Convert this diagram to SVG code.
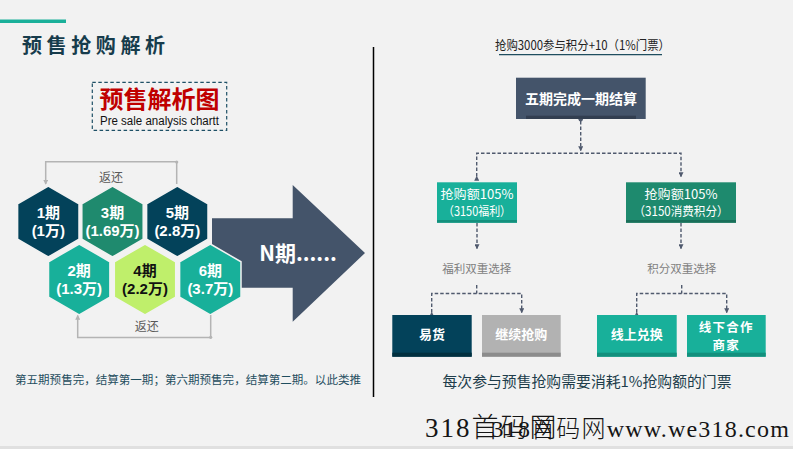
<svg xmlns="http://www.w3.org/2000/svg" width="793" height="449" viewBox="0 0 793 449">
<style>
text{font-family:"Liberation Sans","Noto Sans CJK SC",sans-serif}
.cjk{font-family:"Noto Sans CJK SC","Liberation Sans",sans-serif}
.hex{stroke:#F2F2F2;stroke-width:1.5}
.hx{font-size:15px;font-weight:bold;fill:#fff;text-anchor:middle}
.ret{fill:none;stroke:#B4B4B4;stroke-width:1.5}
.dash{fill:none;stroke:#505A6E;stroke-width:1.4;stroke-dasharray:3.5 2}
.bt{fill:#fff;text-anchor:middle;font-size:12.5px}
.bb{fill:#fff;text-anchor:middle;font-size:13px;font-weight:bold}
.lbl{fill:#7F7F7F;font-size:11.5px;text-anchor:middle}
.wm{font-family:"Liberation Serif","Noto Sans CJK SC",serif;fill:#151515;font-weight:300}
</style>
<defs>
<marker id="ar" viewBox="0 0 6 6" refX="5" refY="3" markerWidth="5" markerHeight="5" markerUnits="userSpaceOnUse" orient="auto">
<path d="M0,0 L6,3 L0,6 Z" fill="#505A6E"/>
</marker>
<marker id="arg" viewBox="0 0 6 6" refX="5" refY="3" markerWidth="5" markerHeight="5" markerUnits="userSpaceOnUse" orient="auto">
<path d="M0,0 L6,3 L0,6 Z" fill="#B4B4B4"/>
</marker>
</defs>
<rect width="793" height="449" fill="#F2F2F2"/>
<rect x="0" y="446" width="793" height="3" fill="#E0E0E0"/>

<!-- header -->
<rect x="0" y="19.5" width="66" height="3.5" fill="#1AB09A"/>
<text class="cjk" x="22" y="52.5" font-size="20" font-weight="bold" letter-spacing="4.6" fill="#173C4C">预售抢购解析</text>

<g id="legend">
<rect x="92.3" y="82.3" width="134.4" height="48" fill="none" stroke="#1E5066" stroke-width="1.2" stroke-dasharray="3.5 2.5"/>
<text class="cjk" x="159.5" y="107.5" font-size="24" font-weight="bold" fill="#C00000" text-anchor="middle">预售解析图</text>
<text x="159.5" y="124.5" font-size="12" fill="#111" text-anchor="middle" textLength="119" lengthAdjust="spacingAndGlyphs">Pre sale analysis chartt</text>
</g>

<line x1="373.5" y1="47" x2="373.5" y2="397" stroke="#000" stroke-width="1.5"/>

<!-- big arrow -->
<g id="arrow-n">
<polygon points="212,218.3 292.7,218.3 292.7,185 365,253 292.7,321.7 292.7,287.7 212,287.7" fill="#44546A"/>
<text class="cjk" x="298" y="261" font-size="21" font-weight="bold" fill="#fff" text-anchor="middle">N期......</text>
</g>

<!-- hexagons -->
<g id="hex1">
<polygon class="hex" fill="#03425A" points="48.3,186 79,203.75 79,239.25 48.3,257 17.6,239.25 17.6,203.75"/>
<text class="hx" x="48.3" y="217.5">1期</text><text class="hx" x="48.3" y="235.5">(1万)</text>
</g>
<g id="hex3">
<polygon class="hex" fill="#1F8A6E" points="112.5,186 143.2,203.75 143.2,239.25 112.5,257 81.8,239.25 81.8,203.75"/>
<text class="hx" x="112.5" y="217.5">3期</text><text class="hx" x="112.5" y="235.5">(1.69万)</text>
</g>
<g id="hex5">
<polygon class="hex" fill="#03425A" points="177.3,186 208,203.75 208,239.25 177.3,257 146.6,239.25 146.6,203.75"/>
<text class="hx" x="177.3" y="217.5">5期</text><text class="hx" x="177.3" y="235.5">(2.8万)</text>
</g>
<g id="hex2">
<polygon class="hex" fill="#18B09A" points="79.2,244 109.9,261.75 109.9,297.25 79.2,315 48.5,297.25 48.5,261.75"/>
<text class="hx" x="79.2" y="276">2期</text><text class="hx" x="79.2" y="294">(1.3万)</text>
</g>
<g id="hex4">
<polygon class="hex" fill="#BFEF6B" points="145,244 175.7,261.75 175.7,297.25 145,315 114.3,297.25 114.3,261.75"/>
<text class="hx" x="145" y="276" style="fill:#111">4期</text><text class="hx" x="145" y="294" style="fill:#111">(2.2万)</text>
</g>
<g id="hex6">
<polygon class="hex" fill="#18B09A" stroke-width="2.5" points="210.3,244 241,261.75 241,297.25 210.3,315 179.6,297.25 179.6,261.75"/>
<text class="hx" x="210.3" y="276">6期</text><text class="hx" x="210.3" y="294">(3.7万)</text>
</g>

<!-- return connectors -->
<g id="returns">
<path class="ret" d="M176.7,184 V161.8 H45.7 V184" marker-end="url(#arg)"/>
<circle cx="176.7" cy="162" r="1.6" fill="#B4B4B4"/>
<text class="cjk" x="111" y="181.5" font-size="12" fill="#595959" text-anchor="middle">返还</text>
<path class="ret" d="M210.7,315 V337.5 H77.7 V315.5" marker-end="url(#arg)"/>
<circle cx="210.7" cy="337.3" r="1.6" fill="#B4B4B4"/>
<text class="cjk" x="146.7" y="331" font-size="12" fill="#595959" text-anchor="middle">返还</text>
</g>

<text class="cjk" x="15" y="384" font-size="11.5" fill="#1F4E5F" textLength="346" lengthAdjust="spacingAndGlyphs">第五期预售完，结算第一期；第六期预售完，结算第二期。以此类推</text>

<!-- right side -->
<text class="cjk" x="582.5" y="50" font-size="12.5" fill="#222" text-anchor="middle" textLength="175" lengthAdjust="spacingAndGlyphs">抢购3000参与积分+10（1%门票）</text>
<line x1="499" y1="54.7" x2="662" y2="54.7" stroke="#1F4E5F" stroke-width="1.2"/>

<g id="connectors">
<circle cx="580.7" cy="119.3" r="2.2" fill="#505A6E"/>
<path class="dash" d="M580.7,121 V150.5" marker-end="url(#ar)"/>
<path class="dash" d="M476.7,176.5 V153.3 H681 V176.5" marker-end="url(#ar)" marker-start="url(#ar)"/>
<path class="dash" d="M477,223 V248.5" marker-end="url(#ar)"/>
<path class="dash" d="M681,223 V248.5" marker-end="url(#ar)"/>
<path class="dash" d="M476.7,285 V293.5"/>
<path class="dash" d="M431.7,312.5 V293.5 H521.7 V312.5" marker-end="url(#ar)" marker-start="url(#ar)"/>
<path class="dash" d="M681.7,285 V293.5"/>
<path class="dash" d="M636.7,312.5 V293.5 H726.7 V312.5" marker-end="url(#ar)" marker-start="url(#ar)"/>
</g>

<g id="settle">
<rect x="516" y="77.7" width="129.7" height="41.3" fill="#44546A"/>
<rect x="526" y="115.7" width="110" height="3.3" fill="#323E50"/>
<text class="bb cjk" x="581" y="104" style="font-size:14px">五期完成一期结算</text>
</g>

<g id="welfare">
<rect x="437" y="182.3" width="80" height="40.4" fill="#18B09A"/>
<rect x="437" y="220" width="80" height="2.7" fill="#13907D"/>
<text class="bt cjk" x="477" y="198.5" textLength="73" lengthAdjust="spacingAndGlyphs">抢购额105%</text>
<text class="bt cjk" x="477" y="216" textLength="68" lengthAdjust="spacingAndGlyphs">（3150福利）</text>
</g>
<g id="points">
<rect x="626" y="182.3" width="110" height="40.4" fill="#1E8A6E"/>
<rect x="626" y="220" width="110" height="2.7" fill="#196F59"/>
<text class="bt cjk" x="681" y="198.5" textLength="73" lengthAdjust="spacingAndGlyphs">抢购额105%</text>
<text class="bt cjk" x="681" y="216" textLength="95" lengthAdjust="spacingAndGlyphs">（3150消费积分）</text>
</g>

<text class="lbl cjk" x="476.7" y="272.5">福利双重选择</text>
<text class="lbl cjk" x="681.7" y="272.5">积分双重选择</text>

<g id="barter">
<rect x="392.3" y="315" width="79.4" height="41.7" fill="#03425A"/>
<rect x="392.3" y="352.7" width="79.4" height="4" fill="#02303F"/>
<text class="bb cjk" x="432" y="338.5">易货</text>
</g>
<g id="continue">
<rect x="482" y="315" width="78.7" height="41.7" fill="#B2B2B2"/>
<rect x="482" y="352.7" width="78.7" height="4" fill="#8C8C8C"/>
<text class="bb cjk" x="521.3" y="338.5">继续抢购</text>
</g>
<g id="online">
<rect x="597" y="315" width="79.7" height="41.7" fill="#18B09A"/>
<rect x="597" y="352.7" width="79.7" height="4" fill="#13907D"/>
<text class="bb cjk" x="636.8" y="338.5">线上兑换</text>
</g>
<g id="offline">
<rect x="687" y="315" width="78.7" height="41.7" fill="#18B09A"/>
<rect x="687" y="352.7" width="78.7" height="4" fill="#13907D"/>
<text class="bb cjk" x="726.3" y="331.5" letter-spacing="1.3" style="font-size:12.5px">线下合作</text>
<text class="bb cjk" x="726.3" y="349.5" letter-spacing="1.3" style="font-size:12.5px">商家</text>
</g>

<text class="cjk" x="587" y="387" font-size="14.5" fill="#203D4B" text-anchor="middle" textLength="289" lengthAdjust="spacingAndGlyphs">每次参与预售抢购需要消耗1%抢购额的门票</text>

<!-- watermark -->
<text class="wm" x="425" y="437" font-size="27" letter-spacing="2">318首码网</text>
<text class="wm" x="491.5" y="437" font-size="24" letter-spacing="1.2">318首码网www.we318.com</text>
</svg>
